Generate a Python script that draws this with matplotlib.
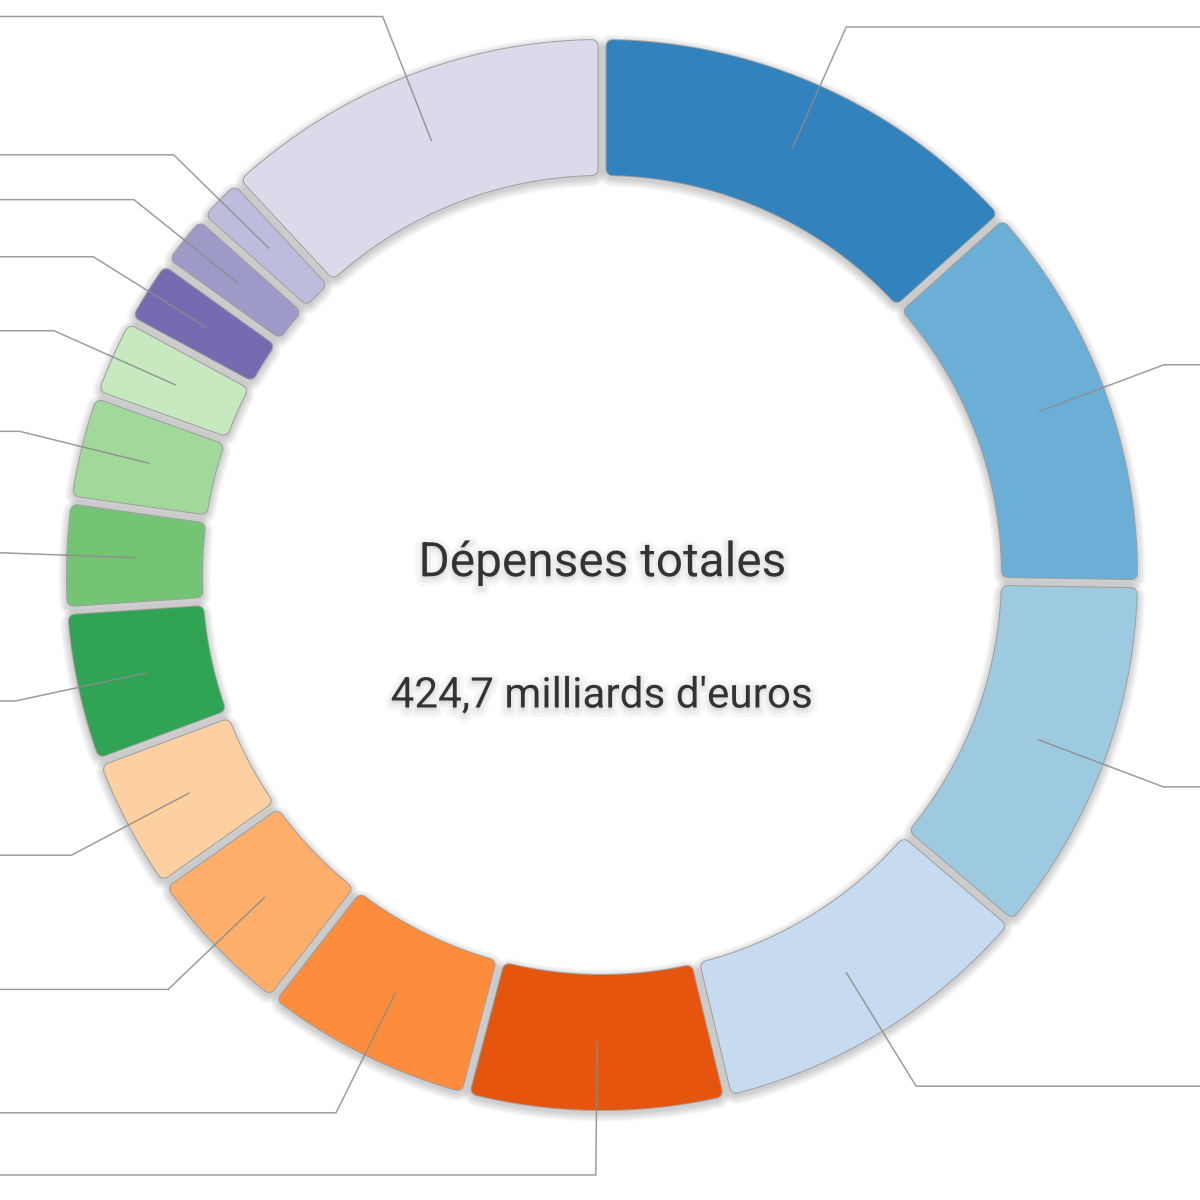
import matplotlib
matplotlib.use("Agg")
import matplotlib.pyplot as plt
import matplotlib.patheffects as pe
from matplotlib.patches import Polygon
from matplotlib.transforms import offset_copy
import numpy as np

# Spending per item, billions of euros (clockwise from 12 o'clock)
values = [56.7, 50.6, 46.6, 42.5, 33.4, 27.3, 19.9, 17.5,
          19.6, 14.0, 13.7, 10.3, 8.6, 7.2, 6.3, 50.6]
colors = ['#3182bd', '#6baed6', '#9ecae1', '#c6dbef',
          '#e6550d', '#fd8d3c', '#fdae6b', '#fdd0a2',
          '#31a354', '#74c476', '#a1d99b', '#c7e9c0',
          '#756bb1', '#9e9ac8', '#bcbddc', '#dadaeb']
title = "Dépenses totales"
subtitle = "424,7 milliards d'euros"

# geometry (data units = pixels)
R_OUT, R_IN = 535, 400
HALF_GAP = 4.5
CORNER = 6
R_LABEL, R_ELBOW = 467, 600
PX = 0.72  # points per pixel at dpi 100

fig = plt.figure(figsize=(12, 12), dpi=100)
ax = fig.add_axes([0, 0, 1, 1])
ax.set_xlim(-602, 598)
ax.set_ylim(-625, 575)
ax.set_aspect('equal')
ax.axis('off')


def seg_poly(a0, a1):
    ro, ri = R_OUT - CORNER, R_IN + CORNER
    d = HALF_GAP + CORNER
    t_out = np.linspace(a0 + np.arcsin(d / ro), a1 - np.arcsin(d / ro), 60)
    t_in = np.linspace(a1 - np.arcsin(d / ri), a0 + np.arcsin(d / ri), 60)
    xs = np.concatenate([ro * np.sin(t_out), ri * np.sin(t_in)])
    ys = np.concatenate([ro * np.cos(t_out), ri * np.cos(t_in)])
    return np.column_stack([xs, ys])


total = sum(values)
ends = np.cumsum(values) / total * 2 * np.pi
starts = np.concatenate([[0], ends[:-1]])

shadow_tr = offset_copy(ax.transData, fig=fig, x=0, y=-3, units='dots')

for a0, a1, col in zip(starts, ends, colors):
    pts = seg_poly(a0, a1)
    # soft drop shadow
    for k in range(1, 9):
        ax.add_patch(Polygon(pts, closed=True, facecolor='none',
                             edgecolor='black', alpha=0.022,
                             linewidth=(2 * CORNER + 2.2 * k) * PX,
                             joinstyle='round', transform=shadow_tr, zorder=1))

for a0, a1, col in zip(starts, ends, colors):
    pts = seg_poly(a0, a1)
    # thin outline, then rounded fill
    ax.add_patch(Polygon(pts, closed=True, facecolor=col, edgecolor='#9a9a9a',
                         linewidth=(2 * CORNER + 2) * PX, joinstyle='round',
                         zorder=2, alpha=0.9))
    ax.add_patch(Polygon(pts, closed=True, facecolor=col, edgecolor=col,
                         linewidth=2 * CORNER * PX, joinstyle='round', zorder=3))

# leader lines (labels sit outside the visible area)
for a0, a1 in zip(starts, ends):
    m = (a0 + a1) / 2
    x0, y0 = R_LABEL * np.sin(m), R_LABEL * np.cos(m)
    x1, y1 = R_ELBOW * np.sin(m), R_ELBOW * np.cos(m)
    x2 = 900 if np.sin(m) > 0 else -900
    ax.plot([x0, x1, x2], [y0, y1, y1], color='#8c8c8c', lw=1.1,
            solid_joinstyle='miter', zorder=4, alpha=0.85)

shadow = [pe.Stroke(linewidth=10, foreground='black', alpha=0.03, offset=(0, -2)),
          pe.Stroke(linewidth=5, foreground='black', alpha=0.04, offset=(0, -2)),
          pe.Normal()]
ax.text(0, 12, title, ha='center', va='center', fontsize=34.4,
        family='Roboto', color='#333333', path_effects=shadow, zorder=5)
ax.text(0, -121, subtitle, ha='center', va='center', fontsize=30.4,
        family='Roboto', color='#333333', path_effects=shadow, zorder=5)

fig.savefig('out.png', dpi=100, facecolor='white')
